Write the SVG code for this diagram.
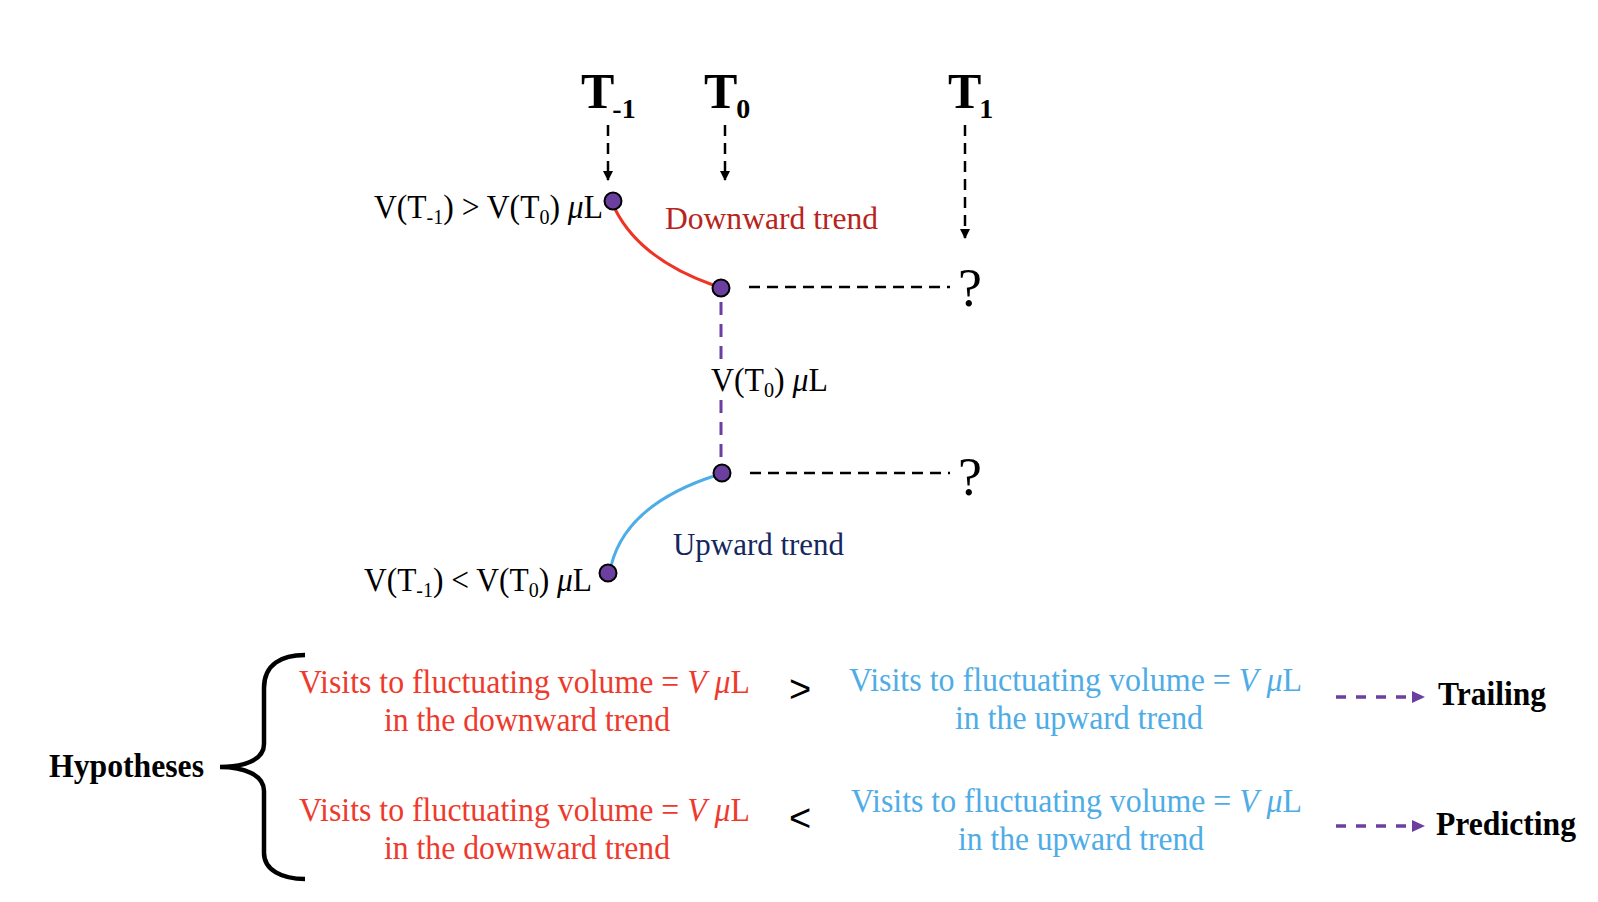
<svg xmlns="http://www.w3.org/2000/svg" width="1598" height="902" viewBox="0 0 1598 902">
<style>
text{font-family:"Liberation Serif","Times New Roman",serif;}
.lbl{font-size:33px;fill:#000;}
.bold{font-weight:bold;fill:#000;}
.red{font-size:33px;fill:#EE3A2C;}
.blue{font-size:33px;fill:#4EACE6;}
.blk{stroke:#000;stroke-width:2.5;stroke-dasharray:11 7;fill:none;}
.pur{stroke:#6B3FA0;stroke-width:3;stroke-dasharray:13 9;fill:none;}
.pur2{stroke:#6B3FA0;stroke-width:3.5;stroke-dasharray:10 10;fill:none;}
.dot{fill:#6B3FA0;stroke:#000;stroke-width:2;}
</style>
<defs>
<marker id="ah" markerUnits="userSpaceOnUse" markerWidth="10" markerHeight="10" refX="5" refY="9" orient="0" viewBox="0 0 10 10">
<path d="M0,0 L10,0 L5,10 Z" fill="#000"/>
</marker>
</defs>
<rect width="1598" height="902" fill="#fff"/>

<g id="time-labels">
<text class="bold" x="581" y="108" font-size="50">T<tspan font-size="28" dx="-2" dy="10">-1</tspan></text>
<text class="bold" x="704" y="108" font-size="50">T<tspan font-size="28" dx="-1" dy="10">0</tspan></text>
<text class="bold" x="948" y="108" font-size="50">T<tspan font-size="28" dx="-2" dy="10">1</tspan></text>
</g>

<g id="connectors">
<line class="blk" x1="608" y1="125" x2="608" y2="180" marker-end="url(#ah)"/>
<line class="blk" x1="725" y1="125" x2="725" y2="180" marker-end="url(#ah)"/>
<line class="blk" x1="965" y1="125" x2="965" y2="238" marker-end="url(#ah)"/>
<path d="M615,209 Q640,259 713,285" stroke="#EE3424" stroke-width="3" fill="none"/>
<path d="M611,566 Q626,505 714,476" stroke="#4DADE8" stroke-width="3" fill="none"/>
<line class="blk" x1="749" y1="287" x2="950" y2="287"/>
<line class="blk" x1="750" y1="473" x2="950" y2="473"/>
<line class="pur" x1="721" y1="302" x2="721" y2="359"/>
<line class="pur" x1="721" y1="400" x2="721" y2="457"/>
<line class="pur2" x1="1336" y1="697" x2="1412" y2="697"/>
<path d="M1412,691 L1425,697 L1412,703 Z" fill="#6B3FA0"/>
<line class="pur2" x1="1336" y1="826" x2="1412" y2="826"/>
<path d="M1412,820 L1425,826 L1412,832 Z" fill="#6B3FA0"/>
<path d="M305,655 C282,655 264,664 264,688 L264,744 C264,760 244,767 220,767 C244,767 264,775 264,791 L264,853 C264,870 282,879 305,879" stroke="#000" stroke-width="4.5" fill="none"/>
</g>

<g id="node-top">
<circle class="dot" cx="613" cy="201" r="8.5"/>
<text class="lbl" x="374" y="218" textLength="229" lengthAdjust="spacingAndGlyphs">V(T<tspan font-size="21" dy="6">-1</tspan><tspan dy="-6">) &gt; V(T</tspan><tspan font-size="21" dy="6">0</tspan><tspan dy="-6">) </tspan><tspan font-style="italic">μ</tspan>L</text>
</g>

<g id="trend-down">
<text x="665" y="229" font-size="32" fill="#B8241C" textLength="213" lengthAdjust="spacingAndGlyphs">Downward trend</text>
</g>

<g id="node-mid-upper">
<circle class="dot" cx="721" cy="288" r="8.5"/>
<text x="958" y="306" font-size="54" fill="#000">?</text>
</g>

<g id="mid-label">
<text class="lbl" x="711" y="391" font-size="32" textLength="117" lengthAdjust="spacingAndGlyphs">V(T<tspan font-size="21" dy="6">0</tspan><tspan dy="-6">) </tspan><tspan font-style="italic">μ</tspan>L</text>
</g>

<g id="node-mid-lower">
<circle class="dot" cx="722" cy="473" r="8.5"/>
<text x="958" y="495" font-size="54" fill="#000">?</text>
</g>

<g id="trend-up">
<text x="673" y="555" font-size="32" fill="#14275E" textLength="171" lengthAdjust="spacingAndGlyphs">Upward trend</text>
</g>

<g id="node-bottom">
<circle class="dot" cx="608" cy="573" r="8.5"/>
<text class="lbl" x="364" y="591" textLength="228" lengthAdjust="spacingAndGlyphs">V(T<tspan font-size="21" dy="6">-1</tspan><tspan dy="-6">) &lt; V(T</tspan><tspan font-size="21" dy="6">0</tspan><tspan dy="-6">) </tspan><tspan font-style="italic">μ</tspan>L</text>
</g>

<g id="hypotheses">
<text class="bold" x="49" y="777" font-size="33" textLength="155" lengthAdjust="spacingAndGlyphs">Hypotheses</text>
</g>

<g id="hyp1-down">
<text class="red" x="299" y="693" textLength="451" lengthAdjust="spacingAndGlyphs">Visits to fluctuating volume = <tspan font-style="italic">V</tspan> <tspan font-style="italic">μ</tspan>L</text>
<text class="red" x="384" y="731" textLength="286" lengthAdjust="spacingAndGlyphs">in the downward trend</text>
</g>

<g id="hyp1-op">
<text x="800" y="702" font-size="38" text-anchor="middle" style="font-family:'Liberation Sans',Arial,sans-serif">&gt;</text>
</g>

<g id="hyp1-up">
<text class="blue" x="849" y="691" textLength="453" lengthAdjust="spacingAndGlyphs">Visits to fluctuating volume = <tspan font-style="italic">V</tspan> <tspan font-style="italic">μ</tspan>L</text>
<text class="blue" x="955" y="729" textLength="248" lengthAdjust="spacingAndGlyphs">in the upward trend</text>
</g>

<g id="trailing">
<text class="bold" x="1438" y="705" font-size="33" textLength="108" lengthAdjust="spacingAndGlyphs">Trailing</text>
</g>

<g id="hyp2-down">
<text class="red" x="299" y="821" textLength="451" lengthAdjust="spacingAndGlyphs">Visits to fluctuating volume = <tspan font-style="italic">V</tspan> <tspan font-style="italic">μ</tspan>L</text>
<text class="red" x="384" y="859" textLength="286" lengthAdjust="spacingAndGlyphs">in the downward trend</text>
</g>

<g id="hyp2-op">
<text x="800" y="831" font-size="38" text-anchor="middle" style="font-family:'Liberation Sans',Arial,sans-serif">&lt;</text>
</g>

<g id="hyp2-up">
<text class="blue" x="851" y="812" textLength="451" lengthAdjust="spacingAndGlyphs">Visits to fluctuating volume = <tspan font-style="italic">V</tspan> <tspan font-style="italic">μ</tspan>L</text>
<text class="blue" x="958" y="850" textLength="246" lengthAdjust="spacingAndGlyphs">in the upward trend</text>
</g>

<g id="predicting">
<text class="bold" x="1436" y="835" font-size="33" textLength="140" lengthAdjust="spacingAndGlyphs">Predicting</text>
</g>
</svg>
